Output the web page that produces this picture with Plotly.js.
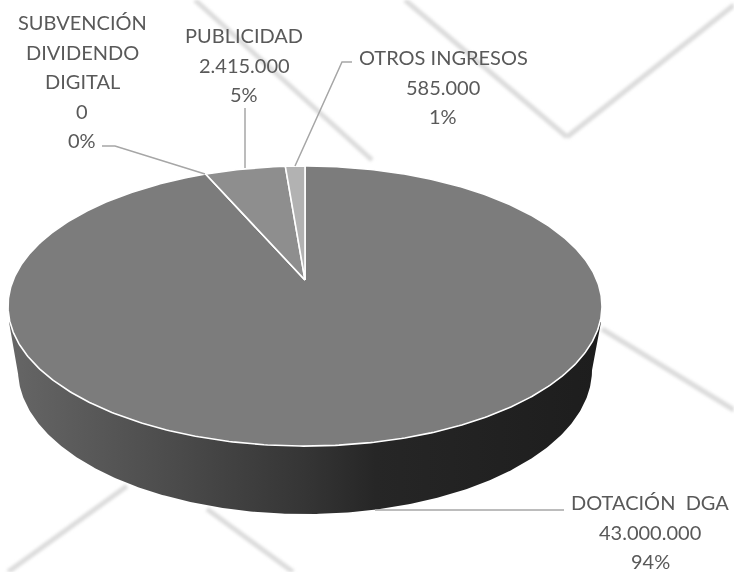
<!DOCTYPE html>
<html><head><meta charset="utf-8">
<script src="https://cdn.plot.ly/plotly-3.0.1.min.js"></script>
<style>html,body{margin:0;padding:0;background:#fff}#c{width:734px;height:572px}
.shapelayer{filter:blur(1.6px)}</style>
</head><body><div id="c"></div>
<script>
const categories = ['DOTACIÓN  DGA', 'SUBVENCIÓN<br>DIVIDENDO<br>DIGITAL', 'PUBLICIDAD', 'OTROS INGRESOS'];
const values = [43000000, 0, 2415000, 585000];
const percentLabels = ['94%', '0%', '5%', '1%'];
const sliceColors = ['#7c7c7c', '#7c7c7c', '#8e8e8e', '#b2b2b2'];
const labelCenterX = [650, 82, 244, 443];
const labelFirstLineY = [502, 22, 35, 57];
const lineStep = 29.6;

const leaderX = [[375, 564], [102, 115, 205], [245, 245], [352, 342, 295]];
const leaderY = [[510, 510], [146, 146, 174], [108, 168], [62, 62, 166]];

const watermarkX = [[195, 372], [405, 567, 734], [602, 734], [127, 8], [207, 293]];
const watermarkY = [[0, 160], [0, 137, 5], [329, 410], [486, 572], [509, 572]];

// pie geometry (projected disc)
const apexX = 305, apexY = 280, R = 291.8, B = 135.2, P = 0.186;
function proj(theta) {
  const u = Math.cos(theta), v = Math.sin(theta), d = 1 + P * v;
  return [apexX + R * u / d, apexY - B * v / d];
}
function arc(a0, a1) {
  const n = Math.max(1, Math.ceil(Math.abs(a1 - a0) / 0.01)), xs = [], ys = [];
  for (let i = 0; i <= n; i++) {
    const p = proj(a0 + (a1 - a0) * i / n);
    xs.push(p[0]); ys.push(p[1]);
  }
  return [xs, ys];
}

const total = values.reduce((a, b) => a + b, 0);
const traces = [];

// side wall
const botCx = 305, botCy = 370, botA = 287, botB = 144;
const wallHalfWidth = 296, wallStartY = 322;
const wallX = [], wallY = [];
wallX.push(botCx - wallHalfWidth); wallY.push(wallStartY);
for (let t = Math.PI; t <= 2 * Math.PI + 0.001; t += 0.01) {
  wallX.push(botCx + botA * Math.cos(t));
  wallY.push(botCy - botB * Math.sin(t));
}
wallX.push(botCx + wallHalfWidth); wallY.push(wallStartY);
traces.push({
  type: 'scatter', mode: 'lines', x: wallX, y: wallY, fill: 'toself',
  line: {width: 0, color: 'rgba(0,0,0,0)'}, hoverinfo: 'skip',
  fillgradient: {type: 'horizontal', colorscale: [[0, '#666666'], [0.25, '#4e4e4e'], [0.5, '#353535'], [0.62, '#262626'], [1, '#1d1d1d']]}
});

// top slices, clockwise from 12 o'clock
let cum = 0;
values.forEach((v, i) => {
  const a0 = Math.PI / 2 - 2 * Math.PI * cum / total;
  cum += v;
  const a1 = Math.PI / 2 - 2 * Math.PI * cum / total;
  const [xs, ys] = arc(a0, a1);
  traces.push({
    type: 'scatter', mode: 'lines',
    x: [apexX, ...xs, apexX], y: [apexY, ...ys, apexY],
    fill: 'toself', fillcolor: sliceColors[i],
    line: {color: '#ffffff', width: 1.6}, hoverinfo: 'skip'
  });
});

// leader lines
leaderX.forEach((xs, i) => traces.push({
  type: 'scatter', mode: 'lines', x: xs, y: leaderY[i],
  line: {color: '#a6a6a6', width: 1.5}, hoverinfo: 'skip'
}));

// labels, one annotation per text line
const fmt = n => String(n).replace(/\B(?=(\d{3})+(?!\d))/g, '.');
const annotations = [];
categories.forEach((c, i) => {
  const lines = [...c.split('<br>'), fmt(values[i]), percentLabels[i]];
  lines.forEach((t, k) => annotations.push({
    x: labelCenterX[i], y: labelFirstLineY[i] + k * lineStep, xref: 'x', yref: 'y',
    text: t, showarrow: false, xanchor: 'center', yanchor: 'middle',
    font: {family: 'Lato, "Open Sans", sans-serif', size: 20, color: '#595959'}
  }));
});

// faint watermark strokes behind the chart
const shapes = [];
watermarkX.forEach((xs, i) => {
  for (let k = 0; k < xs.length - 1; k++) {
    shapes.push({
      type: 'line', layer: 'below', xref: 'x', yref: 'y',
      x0: xs[k], y0: watermarkY[i][k], x1: xs[k + 1], y1: watermarkY[i][k + 1],
      line: {color: '#dcdcdc', width: 5}
    });
  }
});

Plotly.newPlot('c', traces, {
  width: 734, height: 572, showlegend: false,
  margin: {l: 0, r: 0, t: 0, b: 0},
  paper_bgcolor: '#ffffff', plot_bgcolor: 'rgba(0,0,0,0)',
  xaxis: {range: [0, 734], visible: false, fixedrange: true},
  yaxis: {range: [572, 0], visible: false, fixedrange: true},
  annotations, shapes
}, {displayModeBar: false, staticPlot: true});
</script></body></html>
